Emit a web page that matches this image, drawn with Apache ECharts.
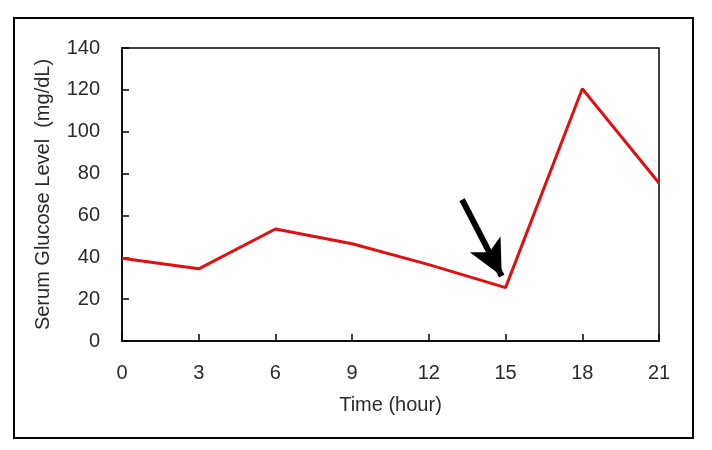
<!DOCTYPE html>
<html>
<head>
<meta charset="utf-8">
<script src="https://cdn.jsdelivr.net/npm/echarts@6/dist/echarts.min.js"></script>
<style>
    html, body { margin: 0; padding: 0; background: #fff; }
    #frame { position: absolute; left: 13px; top: 17px; width: 677px; height: 418px; border: 2px solid #000; }
    #divChart { position: absolute; left: 0; top: 0; width: 712px; height: 450px; }
</style>
</head>
<body>
<div id="frame"></div>
<div id="divChart"></div>
<script>
    // time points (hour) and glucose values
    var hours = [0, 3, 6, 9, 12, 15, 18, 21];
    var glucose = [39.5, 34.5, 53.5, 46.5, 36.5, 25.5, 120.5, 75.5];
    // arrow annotation, in data units: tail then tip
    var arrowFrom = [13.3, 67.5];
    var arrowTo = [14.85, 31];

    var txt = '#2a2a2a';
    var fnt = '"Liberation Sans", Arial, sans-serif';

    var myChart = echarts.init(document.getElementById('divChart'), null, { renderer: 'canvas' });
    var points = [];
    for (var i = 0; i < hours.length; i++) {
        points.push([hours[i], glucose[i]]);
    }

    var option = {
        backgroundColor: 'transparent',
        animation: false,
        grid: {
            left: 122,
            top: 48,
            right: 53,
            bottom: 109,
            show: true,
            borderColor: '#000',
            borderWidth: 1.5
        },
        xAxis: {
            type: 'value',
            min: 0,
            max: 21,
            interval: 3,
            name: 'Time (hour)',
            nameLocation: 'middle',
            nameGap: 54,
            nameTextStyle: { color: txt, fontSize: 20, fontFamily: fnt },
            axisLine: { show: true, lineStyle: { color: '#000', width: 1.5 } },
            axisTick: { show: true, inside: true, length: 7, lineStyle: { color: '#000', width: 1.5 } },
            axisLabel: { color: txt, fontSize: 20, fontFamily: fnt, margin: 22 },
            splitLine: { show: false }
        },
        yAxis: {
            type: 'value',
            min: 0,
            max: 140,
            interval: 20,
            name: 'Serum Glucose Level  (mg/dL)',
            nameLocation: 'middle',
            nameGap: 69,
            nameTextStyle: { color: txt, fontSize: 20, fontFamily: fnt },
            axisLine: { show: true, lineStyle: { color: '#000', width: 1.5 } },
            axisTick: { show: true, inside: true, length: 7, lineStyle: { color: '#000', width: 1.5 } },
            axisLabel: { color: txt, fontSize: 20, fontFamily: fnt, margin: 22 },
            splitLine: { show: false }
        },
        series: [
            {
                name: 'glucose',
                type: 'line',
                data: points,
                symbol: 'none',
                lineStyle: { color: '#e01010', width: 3 },
                markLine: {
                    silent: true,
                    symbol: ['none', 'arrow'],
                    symbolSize: [26, 36],
                    lineStyle: { color: '#000', width: 6, type: 'solid' },
                    label: { show: false },
                    data: [
                        [ { coord: arrowFrom }, { coord: arrowTo } ]
                    ]
                }
            }
        ]
    };
    myChart.setOption(option);
</script>
</body>
</html>
